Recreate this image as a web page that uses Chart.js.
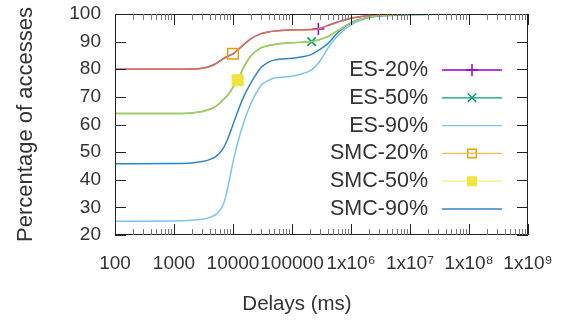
<!DOCTYPE html>
<html>
<head>
<meta charset="utf-8">
<script src="https://cdn.jsdelivr.net/npm/chart.js@4"></script>
<style>
  body { margin: 0; background: #fff; }
  #wrap { width: 565px; height: 320px; }
</style>
</head>
<body>
<div id="wrap"><canvas id="delays" width="565" height="320"></canvas></div>
<script>
// delays (ms) at which the curves were read
const delays = [100, 1000, 2000, 3000, 4000, 5000, 6000, 7000, 8000, 9000,
    10000, 12000, 15000, 20000, 30000, 40000, 50000, 100000, 150000, 215000,
    280000, 400000, 600000, 1e6, 2e6, 5e6, 1e7, 1e8, 1e9];

const es20 = [80, 80, 80.1, 80.4, 81.0, 81.9, 83.0, 83.9, 84.6, 85.1,
    85.6, 87.0, 88.8, 91.0, 92.9, 93.5, 93.8, 94.2, 94.3, 94.4,
    94.6, 95.8, 97.1, 98.5, 99.5, 99.8, 99.9, 100, 100];
const es50 = [64, 64, 64.2, 64.7, 65.5, 66.5, 67.8, 69.2, 70.4, 71.9,
    73.5, 76.0, 80.5, 84.8, 87.8, 88.6, 89.0, 89.6, 89.8, 90.0,
    90.6, 91.8, 94.0, 96.8, 98.8, 99.6, 99.8, 100, 100];
const es90 = [25, 25.1, 25.3, 25.7, 26.3, 27.3, 28.9, 31.6, 36.3, 41.6,
    46.4, 53.4, 60.4, 67.4, 74.2, 76.0, 76.8, 77.5, 78.4, 79.8,
    82.2, 87.4, 92.2, 96.1, 98.6, 99.5, 99.8, 100, 100];
const smc20 = [80, 80, 80.1, 80.4, 81.0, 81.9, 83.0, 83.9, 84.6, 85.1,
    85.6, 87.0, 88.8, 91.0, 92.9, 93.5, 93.8, 94.2, 94.3, 94.4,
    94.6, 95.8, 97.1, 98.5, 99.5, 99.8, 99.9, 100, 100];
const smc50 = [64, 64, 64.2, 64.7, 65.5, 66.5, 67.8, 69.2, 70.4, 71.9,
    73.5, 76.0, 80.5, 84.8, 87.8, 88.6, 89.0, 89.6, 89.8, 90.0,
    90.6, 91.8, 94.0, 96.8, 98.8, 99.6, 99.8, 100, 100];
const smc90 = [45.8, 45.9, 46.1, 46.6, 47.3, 48.3, 49.8, 51.8, 54.4, 57.2,
    60.0, 64.6, 69.8, 75.0, 80.6, 82.6, 83.3, 84.0, 84.5, 85.4,
    86.8, 89.2, 93.3, 96.8, 98.8, 99.6, 99.8, 100, 100];

const seriesNames = ['ES-20%', 'ES-50%', 'ES-90%', 'SMC-20%', 'SMC-50%', 'SMC-90%'];

const xTicks = [100, 1000, 10000, 100000, 1e6, 1e7, 1e8, 1e9];
const xTickLabels = ['100', '1000', '10000', '100000', '1x10\u2076', '1x10\u2077', '1x10\u2078', '1x10\u2079'];

const FONT = '"Liberation Sans", Arial, sans-serif';
const TEXT = '#333';

function pts(ys) {
    return ys.map((y, i) => ({ x: delays[i], y: y }));
}

// gnuplot draws one point per curve here
function onePoint(idx, r) {
    return ctx => ctx.dataIndex === idx ? r : 0;
}

const frame = {
    id: 'frame',
    afterDatasetsDraw(chart) {
        const { ctx, chartArea: a, scales } = chart;
        const xs = scales.x, ys = scales.y;
        ctx.save();
        ctx.strokeStyle = '#222';
        ctx.lineWidth = 1;
        ctx.beginPath();
        ctx.rect(a.left + 0.5, a.top + 0.5, a.right - a.left - 1, a.bottom - a.top - 1);
        // y ticks, both sides, pointing in
        ys.ticks.forEach(t => {
            const p = Math.round(ys.getPixelForValue(t.value)) + 0.5;
            ctx.moveTo(a.left, p); ctx.lineTo(a.left + 11, p);
            ctx.moveTo(a.right, p); ctx.lineTo(a.right - 11, p);
        });
        // x major + minor ticks, top and bottom
        xTicks.forEach(d => {
            const p = Math.round(xs.getPixelForValue(d)) + 0.5;
            ctx.moveTo(p, a.bottom); ctx.lineTo(p, a.bottom - 11);
            ctx.moveTo(p, a.top); ctx.lineTo(p, a.top + 11);
        });
        ctx.stroke();
        ctx.strokeStyle = '#777';
        ctx.beginPath();
        xTicks.slice(0, -1).forEach(d => {
            for (let m = 2; m < 10; m++) {
                const p = Math.round(xs.getPixelForValue(d * m)) + 0.5;
                ctx.moveTo(p, a.bottom); ctx.lineTo(p, a.bottom - 6);
                ctx.moveTo(p, a.top); ctx.lineTo(p, a.top + 6);
            }
        });
        ctx.stroke();
        ctx.restore();
    },
    afterDraw(chart) {
        const { ctx, chartArea: a } = chart;
        ctx.save();
        // key, inside the plot at the right
        const lineEnd = a.right - 26, lineStart = lineEnd - 60;
        ctx.font = '21.5px ' + FONT;
        ctx.textAlign = 'right';
        ctx.textBaseline = 'middle';
        chart.data.datasets.forEach((ds, i) => {
            const y = a.top + 56 + i * 27.8;
            ctx.fillStyle = TEXT;
            ctx.fillText(ds.label, lineStart - 14, y);
            ctx.strokeStyle = ds.borderColor;
            ctx.lineWidth = 1.3;
            ctx.beginPath();
            ctx.moveTo(lineStart, y);
            ctx.lineTo(lineEnd, y);
            ctx.stroke();
            if (ds.keyPoint) {
                ctx.strokeStyle = ds.pointBorderColor;
                ctx.fillStyle = ds.pointBackgroundColor;
                ctx.lineWidth = 1.5;
                Chart.helpers.drawPoint(ctx, {
                    pointStyle: ds.pointStyle, radius: 6, rotation: 0, borderWidth: 1.5
                }, (lineStart + lineEnd) / 2, y);
            }
        });
        // x axis title
        ctx.font = '20.5px ' + FONT;
        ctx.textAlign = 'center';
        ctx.fillStyle = TEXT;
        ctx.fillText('Delays (ms)', 297, 304);
        ctx.restore();
    }
};

const canvas = document.getElementById('delays');

new Chart(canvas, {
    type: 'line',
    data: {
        datasets: [
            {
                label: seriesNames[0],
                data: pts(es20),
                borderColor: '#9400d3',
                pointStyle: 'cross',
                pointBorderColor: '#9400d3',
                pointBackgroundColor: '#9400d3',
                pointRadius: onePoint(20, 6),
                keyPoint: true,
                order: 2
            },
            {
                label: seriesNames[1],
                data: pts(es50),
                borderColor: '#009e73',
                pointStyle: 'crossRot',
                pointBorderColor: '#009e73',
                pointBackgroundColor: '#009e73',
                pointRadius: onePoint(19, 6),
                keyPoint: true,
                order: 2
            },
            {
                label: seriesNames[2],
                data: pts(es90),
                borderColor: '#7cc4ee',
                pointRadius: 0,
                order: 2
            },
            {
                label: seriesNames[3],
                data: pts(smc20),
                borderColor: 'rgba(236, 160, 30, 0.72)',
                pointStyle: 'rect',
                pointBorderColor: '#e69f00',
                pointBackgroundColor: 'rgba(0,0,0,0)',
                pointRadius: onePoint(10, 7.5),
                keyPoint: true,
                order: 1
            },
            {
                label: seriesNames[4],
                data: pts(smc50),
                borderColor: 'rgba(240, 228, 66, 0.7)',
                pointStyle: 'rect',
                pointBorderColor: '#f0e442',
                pointBackgroundColor: '#f0e442',
                pointRadius: onePoint(11, 7.5),
                keyPoint: true,
                order: 1
            },
            {
                label: seriesNames[5],
                data: pts(smc90),
                borderColor: '#2f86c6',
                pointRadius: 0,
                order: 1
            }
        ]
    },
    options: {
        responsive: false,
        animation: false,
        events: [],
        devicePixelRatio: 1,
        layout: {
            padding: { top: 14, right: 37, left: 0, bottom: 0 }
        },
        elements: {
            line: { borderWidth: 1.5, cubicInterpolationMode: 'monotone' },
            point: { borderWidth: 1.5, hoverRadius: 0 }
        },
        scales: {
            x: {
                type: 'logarithmic',
                min: 100,
                max: 1e9,
                grid: { display: false, drawTicks: false },
                border: { display: false },
                afterBuildTicks: scale => {
                    scale.ticks = xTicks.map(v => ({ value: v }));
                },
                afterFit: scale => {
                    scale.height = 85;
                    scale.paddingLeft = 0;
                    scale.paddingRight = 0;
                },
                ticks: {
                    autoSkip: false,
                    maxRotation: 0,
                    minRotation: 0,
                    padding: 17,
                    color: TEXT,
                    font: { family: FONT, size: 19 },
                    callback: (value, i) => xTickLabels[i]
                }
            },
            y: {
                min: 20,
                max: 100,
                grid: { display: false, drawTicks: false },
                border: { display: false },
                afterFit: scale => {
                    scale.width = 115;
                    scale.paddingTop = 0;
                    scale.paddingBottom = 0;
                },
                ticks: {
                    stepSize: 10,
                    padding: 14,
                    color: TEXT,
                    font: { family: FONT, size: 19 }
                },
                title: {
                    display: true,
                    text: 'Percentage of accesses',
                    color: TEXT,
                    padding: { top: 13, bottom: 0 },
                    font: { family: FONT, size: 22 }
                }
            }
        },
        plugins: {
            legend: { display: false },
            tooltip: { enabled: false }
        }
    },
    plugins: [frame]
});
</script>
</body>
</html>
